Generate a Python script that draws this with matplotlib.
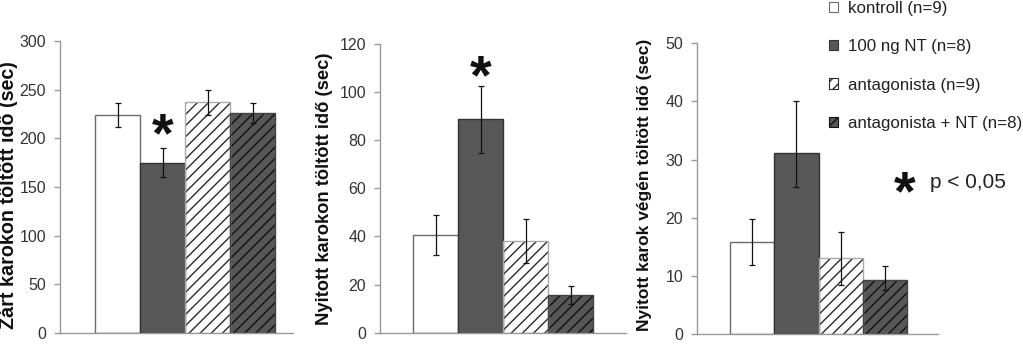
import matplotlib
matplotlib.use("Agg")
import matplotlib.pyplot as plt
from matplotlib.patches import Patch
import numpy as np

plt.rcParams['font.family'] = ['Liberation Sans', 'DejaVu Sans']
plt.rcParams['hatch.linewidth'] = 1.0

groups = ["kontroll (n=9)", "100 ng NT (n=8)", "antagonista (n=9)", "antagonista + NT (n=8)"]

zart_mean = [224, 175, 237, 226]
zart_err = [12, 15, 13, 10.5]

nyitott_mean = [40.6, 88.7, 38.1, 15.7]
nyitott_err = [8.4, 13.8, 9.0, 3.7]

vege_mean = [15.8, 31.1, 13.0, 9.3]
vege_err_low = [4.0, 5.8, 4.5, 1.8]
vege_err_high = [4.0, 8.9, 4.6, 2.4]

ylabels = ["Zárt karokon töltött idő (sec)",
           "Nyitott karokon töltött idő (sec)",
           "Nyitott karok végén töltött idő (sec)"]
yticks = [[0, 50, 100, 150, 200, 250, 300],
          [0, 20, 40, 60, 80, 100, 120],
          [0, 10, 20, 30, 40, 50]]
sig_text = "p < 0,05"

W, H = 1023, 362
fig = plt.figure(figsize=(W / 100, H / 100), dpi=100)

faces = ["white", "#575757", "white", "#575757"]
hatches = [None, None, "///", "///"]
outline = ["#6a6a6a", "#333333", "#aaaaaa", "#444444"]
hatch_col = [None, None, "#2a2a2a", "#111111"]

def px_axes(x0, x1, ytop, ybot):
    return fig.add_axes([x0 / W, (H - ybot) / H, (x1 - x0) / W, (ybot - ytop) / H])

panels = [
    dict(box=(60, 293, 41, 333), xlim=(-1.278, 3.9), ylim=(0, 300), mean=zart_mean,
         err=[zart_err, zart_err], star=1, star_px=137, lab=(-0.223, 0.473), lfs=14.2),
    dict(box=(380, 626, 44, 332.7), xlim=(-1.244, 4.23), ylim=(0, 120), mean=nyitott_mean,
         err=[nyitott_err, nyitott_err], star=1, star_px=79, lab=(-0.2236, 0.498), lfs=13.2),
    dict(box=(697, 938, 43.3, 334), xlim=(-1.25, 4.2), ylim=(0, 50), mean=vege_mean,
         err=[vege_err_low, vege_err_high], star=None, star_px=None, lab=(-0.216, 0.513), lfs=12.5),
]

x = np.arange(4)
for i, p in enumerate(panels):
    ax = px_axes(*p['box'])
    for j in range(4):
        if hatches[j]:
            ax.bar(x[j], p['mean'][j], width=1.0, color=faces[j], hatch=hatches[j],
                   edgecolor=hatch_col[j], linewidth=0, zorder=2)
        else:
            ax.bar(x[j], p['mean'][j], width=1.0, color=faces[j], linewidth=0, zorder=2)
        ax.bar(x[j], p['mean'][j], width=1.0, fill=False, edgecolor=outline[j],
               linewidth=1.0, zorder=3)
    ax.errorbar(x, p['mean'], yerr=p['err'], fmt='none', ecolor='#111111',
                elinewidth=0.9, capsize=2, capthick=0.9, zorder=4)
    ax.set_xlim(*p['xlim'])
    ax.set_ylim(*p['ylim'])
    ax.set_yticks(yticks[i])
    ax.set_xticks([])
    for s in ['top', 'right']:
        ax.spines[s].set_visible(False)
    for s in ['left', 'bottom']:
        ax.spines[s].set_color('#999999')
        ax.spines[s].set_linewidth(1.0)
    ax.tick_params(axis='y', colors='#999999', labelcolor='#333333', labelsize=11.5,
                   length=4, width=1.0, pad=6)
    ax.set_ylabel(ylabels[i], fontsize=p['lfs'], fontweight='bold', color='#111111', va='center')
    ax.yaxis.set_label_coords(*p['lab'])
    ax.patch.set_alpha(0)
    if p['star'] is not None:
        y0, y1 = p['box'][2], p['box'][3]
        frac = (y1 - p['star_px']) / (y1 - y0)
        ax.text(x[p['star']], frac * p['ylim'][1], "*", ha='center', va='center',
                fontsize=40, fontweight='bold', color='#111111')

handles = []
for j in range(4):
    handles.append(Patch(facecolor=faces[j], edgecolor=hatch_col[j] if hatches[j] else outline[j],
                         hatch=hatches[j], linewidth=0.8))
leg = fig.legend(handles, groups, loc='upper left', bbox_to_anchor=(822 / W, 1 + 6 / H),
                 frameon=False, fontsize=12.2, handlelength=0.55, handleheight=0.55,
                 handletextpad=0.6, labelspacing=1.38, borderaxespad=0)
for t in leg.get_texts():
    t.set_color('#222222')

fig.text(905 / W, 1 - 195 / H, "*", ha='center', va='center', fontsize=40,
         fontweight='bold', color='#111111')
fig.text(930 / W, 1 - 183 / H, sig_text, ha='left', va='center', fontsize=15, color='#222222')

fig.savefig("out.png", dpi=100)
